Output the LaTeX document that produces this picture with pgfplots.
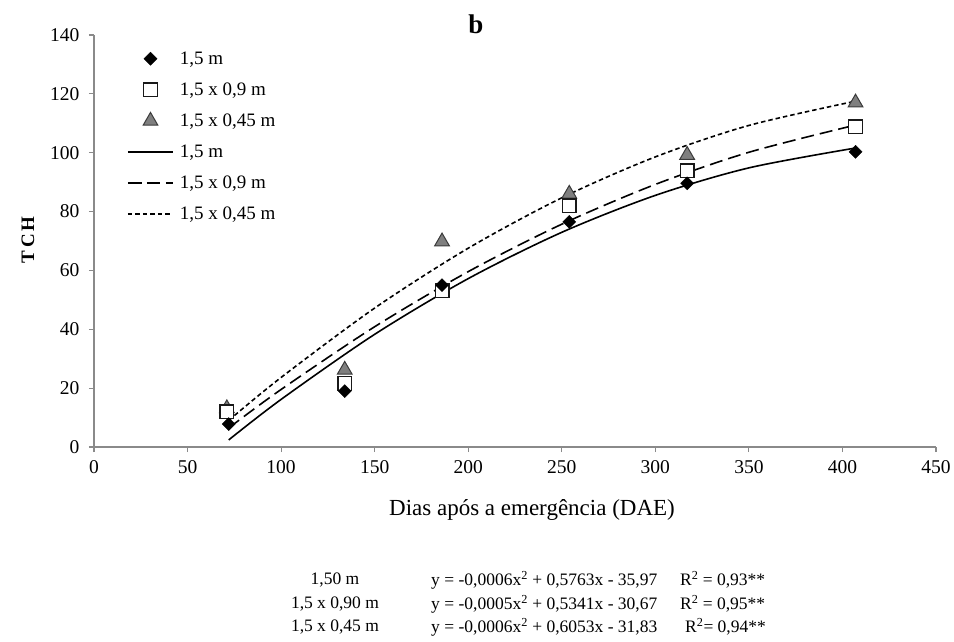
\documentclass[border=0pt]{standalone}
\usepackage{fontspec}
\setmainfont{Liberation Serif}
\usepackage{pgfplots}
\pgfplotsset{compat=1.18}
\definecolor{axgray}{HTML}{8A8A8A}
\definecolor{trifill}{HTML}{7F7F7F}
\definecolor{triedge}{HTML}{3A3A3A}
\pgfplotsset{
  legimg/.style={legend image code/.code={\path (0pt,0pt) (49pt,0pt);\draw[mark repeat=2,mark phase=2,##1] plot coordinates {(0pt,0pt)(22.5pt,0pt)(45pt,0pt)};}},
}
\begin{document}
\begin{tikzpicture}
\path[use as bounding box] (-94pt,-194pt) rectangle (860pt,447pt);
\begin{axis}[
  at={(0pt,0pt)}, anchor=south west,
  scale only axis, width=842pt, height=412pt,
  xmin=0, xmax=450, ymin=0, ymax=140,
  xtick={0,50,...,450}, ytick={0,20,...,140},
  axis lines=left, axis line style={-, draw=axgray, line width=1.2pt},
  tick align=outside, major tick length=5pt,
  tick style={draw=axgray, line width=1.2pt},
  tick label style={font=\fontsize{19.5}{19.5}\selectfont},
  xticklabel style={yshift=-5pt},
  yticklabel style={xshift=-6pt},
  /pgf/number format/assume math mode=true,
  clip=false,
  reverse legend,
  legend cell align=left,
  legend style={draw=none, fill=none, at={(0,1)}, anchor=north west,
    xshift=33pt, yshift=-14.5pt, font=\fontsize{19}{19}\selectfont,
    row sep=13pt, inner sep=0pt, cells={anchor=west}},
]
% fitted curves
\addplot[black, line width=1.6pt, dash pattern=on 4.5pt off 3pt, smooth, legimg] coordinates {
 (72,9.04) (100,23.64) (150,47.21) (200,67.55) (250,84.68) (300,98.58) (350,109.27) (407,117.52)};
\addlegendentry{1,5 x 0,45 m}
\addplot[black, line width=1.6pt, dash pattern=on 13pt off 6pt, smooth, legimg] coordinates {
 (72,6.47) (100,19.55) (150,40.87) (200,59.59) (250,75.71) (300,89.23) (350,100.15) (407,109.4)};
\addlegendentry{1,5 x 0,9 m}
\addplot[black, line width=1.6pt, smooth, legimg] coordinates {
 (72,2.4) (100,16.18) (150,38.29) (200,57.22) (250,72.95) (300,85.5) (350,94.85) (407,101.6)};
\addlegendentry{1,5 m}
% observed points
\addplot[only marks, legimg, mark=triangle*, mark size=8.5pt, mark options={fill=trifill, draw=triedge, line width=1pt}] coordinates {
 (71,13.1) (134,26.2) (186,69.8) (254,86) (317,99.2) (407,117)};
\addlegendentry{1,5 x 0,45 m}
\addplot[only marks, legimg, mark=square*, mark size=6.8pt, mark options={fill=white, draw=black!90, line width=1.4pt}] coordinates {
 (71,12) (134,21.6) (186,53.2) (254,81.9) (317,93.9) (407,108.8)};
\addlegendentry{1,5 x 0,9 m}
\addplot[only marks, legimg, mark=square*, mark size=4.6pt, mark options={fill=black, draw=black, rotate=45}] coordinates {
 (72,7.8) (134,19) (186,55) (254,76.5) (317,89.6) (407,100.3)};
\addlegendentry{1,5 m}
\end{axis}
% texts
\node[font=\fontsize{27}{27}\selectfont\bfseries] at (382pt,423pt) {b};
\node[rotate=90, font=\fontsize{19}{19}\selectfont\bfseries] at (-66pt,207pt) {T\,C\,H};
\node[font=\fontsize{23}{23}\selectfont] at (438pt,-63pt) {Dias após a emergência (DAE)};
\begin{scope}[every node/.style={font=\fontsize{17.5}{17.5}\selectfont, inner sep=0pt}]
\node at (241pt,-133pt) {1,50 m};
\node at (241pt,-157pt) {1,5 x 0,90 m};
\node at (241pt,-180pt) {1,5 x 0,45 m};
\node[anchor=west] at (337pt,-133pt) {y = -0,0006x\textsuperscript{2} + 0,5763x - 35,97};
\node[anchor=west] at (337pt,-157pt) {y = -0,0005x\textsuperscript{2} + 0,5341x - 30,67};
\node[anchor=west] at (337pt,-180pt) {y = -0,0006x\textsuperscript{2} + 0,6053x - 31,83};
\node[anchor=west] at (586pt,-133pt) {R\textsuperscript{2} = 0,93**};
\node[anchor=west] at (586pt,-157pt) {R\textsuperscript{2} = 0,95**};
\node[anchor=west] at (591pt,-180pt) {R\textsuperscript{2}= 0,94**};
\end{scope}
\end{tikzpicture}
\end{document}
